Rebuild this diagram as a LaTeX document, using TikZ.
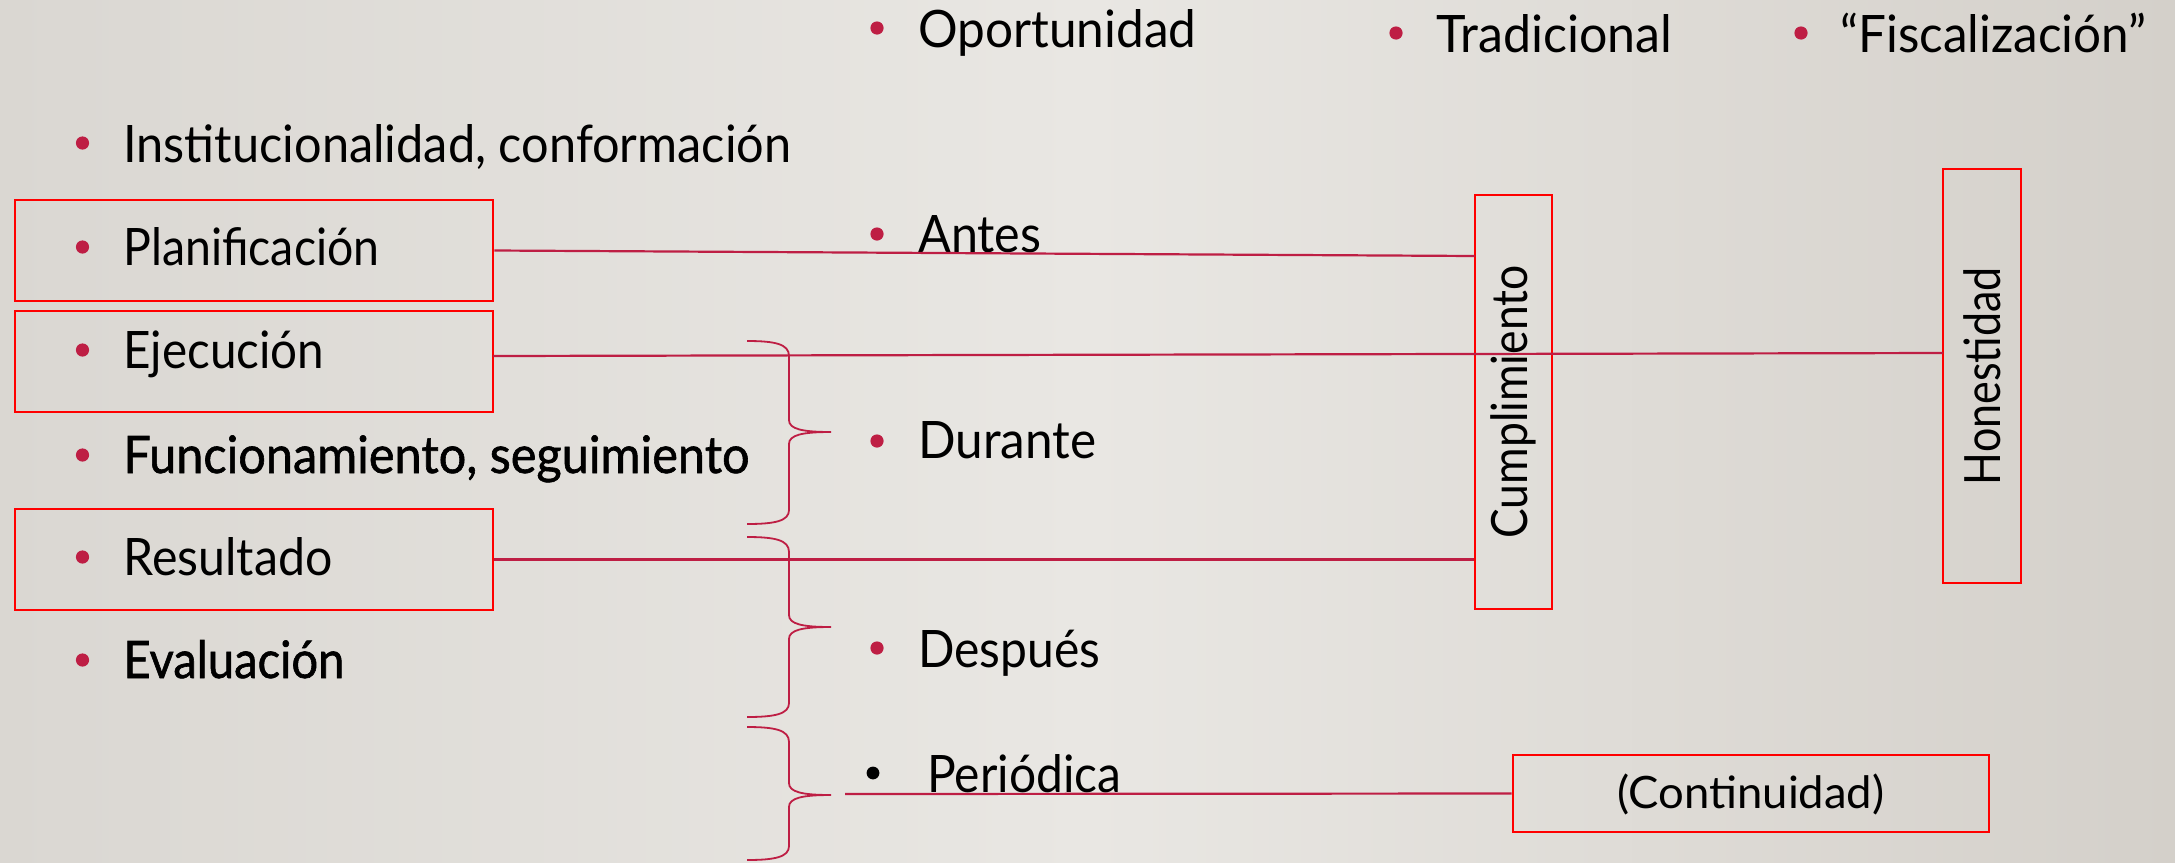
\documentclass[tikz,border=0pt]{standalone}
\usepackage{fontspec}
\setmainfont{Lato}
\newfontfamily\semibf{Lato}[FakeBold=1.2]
\usepackage{graphicx}
\definecolor{crim}{RGB}{190,30,68}
\definecolor{boxred}{RGB}{255,0,0}
\definecolor{bgL}{RGB}{218,215,210}
\definecolor{bgM}{RGB}{233,231,227}
\definecolor{bgR}{RGB}{212,208,202}
\newcommand\tw[2]{\resizebox{#1bp}{\height}{#2}}
\tikzset{
  bigtxt/.style={anchor=base west,inner sep=0pt,font=\fontsize{25.8bp}{30bp}\selectfont},
  dot/.style={circle,fill=crim,inner sep=0pt,minimum size=6.6bp},
  redbox/.style={draw=boxred,line width=1.3bp,inner sep=0pt},
  thinbox/.style={draw=boxred,line width=0.8bp,inner sep=0pt},
  conn/.style={draw=crim,line width=1.1bp},
  brc/.style={draw=crim,line width=0.9bp},
  vtxt/.style={rotate=90,inner sep=0pt,font=\fontsize{25bp}{30bp}\selectfont}
}
\begin{document}
\begin{tikzpicture}[x=0.5bp,y=-0.5bp]
\useasboundingbox (0,0) rectangle (2175,862);
\shade[left color=bgL,right color=bgR,middle color=bgM] (0,0) rectangle (2175,862);

% left boxes
\node[redbox,minimum width=239bp,minimum height=50.5bp] (planbox) at (254,250.5) {};
\node[redbox,minimum width=239bp,minimum height=50.5bp] (ejebox) at (254,361.5) {};
\node[redbox,minimum width=239bp,minimum height=50.5bp] (resbox) at (254,559.5) {};
% vertical boxes
\node[thinbox,minimum width=38.5bp,minimum height=207bp] (cumplbox) at (1513.5,402) {};
\node[thinbox,minimum width=39bp,minimum height=207bp] (honbox) at (1982,376) {};
\node[redbox,minimum width=238bp,minimum height=38.5bp] (contbox) at (1751,793.5) {};

% left column
\node[dot] (d1) at (82.5,143) {};
\node[bigtxt] (t1) at (123,162) {\tw{334}{Institucionalidad, conformación}};
\node[dot] (d2) at (82.5,247) {};
\node[bigtxt] (t2) at (123,265) {\tw{128}{Planificación}};
\node[dot] (d3) at (82.5,350) {};
\node[bigtxt] (t3) at (123,368) {\tw{100.5}{Ejecución}};
\node[dot] (d4) at (82.5,455) {};
\node[bigtxt] (t4) at (123,473) {\tw{313}{\semibf Funcionamiento, seguimiento}};
\node[dot] (d5) at (82.5,557) {};
\node[bigtxt] (t5) at (123,575) {\tw{104.5}{Resultado}};
\node[dot] (d6) at (82.5,660) {};
\node[bigtxt] (t6) at (123,678) {\tw{110.5}{\semibf Evaluación}};

% middle column
\node[dot] (m1) at (877,28) {};
\node[bigtxt] (u1) at (918,47) {\tw{139}{Oportunidad}};
\node[dot] (m2) at (877,234) {};
\node[bigtxt] (u2) at (918,252) {\tw{61.5}{Antes}};
\node[dot] (m3) at (877,441) {};
\node[bigtxt] (u3) at (918,458) {\tw{89}{Durante}};
\node[dot] (m4) at (877,648) {};
\node[bigtxt] (u4) at (918,667) {\tw{91}{Después}};
\node[dot,fill=black,minimum size=6.4bp] (m5) at (873,773) {};
\node[bigtxt] (u5) at (927,792) {\tw{97}{Periódica}};

% top right
\node[dot] (r1) at (1396,33) {};
\node[bigtxt] (v1) at (1436,52) {\tw{118}{Tradicional}};
\node[dot] (r2) at (1801,33) {};
\node[bigtxt] (v2) at (1840,52) {\tw{153}{“Fiscalización”}};

% vertical texts
\node[vtxt] (cumpl) at (cumplbox.center) {\tw{136.5}{Cumplimiento}};
\node[vtxt] (hon) at (honbox.center) {\tw{109}{Honestidad}};
\node[inner sep=0pt,anchor=base,font=\fontsize{22.3bp}{26bp}\selectfont] (cont) at (1751,808) {\tw{133.5}{(Continuidad)}};

% connectors
\coordinate (c1) at (1475,256);
\draw[conn] (planbox.east) -- (c1);
\coordinate (e0) at (493,356);
\coordinate (e1) at (1943,353);
\draw[conn] (e0) -- (e1);
\draw[conn] (resbox.east) -- (resbox.east -| cumplbox.west);
\coordinate (p0) at (845,794);
\draw[conn] (p0) -- (contbox.west);

% braces
\draw[brc] (747,341) .. controls (775,341) and (789,344) .. (789,356) -- (789,420)
  .. controls (789,429) and (802,432) .. (831,432)
  .. controls (802,432) and (789,435) .. (789,444) -- (789,510)
  .. controls (789,521) and (775,524) .. (747,524);
\draw[brc] (747,537) .. controls (775,537) and (789,540) .. (789,552) -- (789,615)
  .. controls (789,624) and (802,627) .. (831,627)
  .. controls (802,627) and (789,630) .. (789,639) -- (789,703)
  .. controls (789,714) and (775,717) .. (747,717);
\draw[brc] (747,727) .. controls (775,727) and (789,730) .. (789,742) -- (789,783)
  .. controls (789,792) and (802,795) .. (831,795)
  .. controls (802,795) and (789,798) .. (789,807) -- (789,846)
  .. controls (789,857) and (775,860) .. (747,860);
\end{tikzpicture}
\end{document}
